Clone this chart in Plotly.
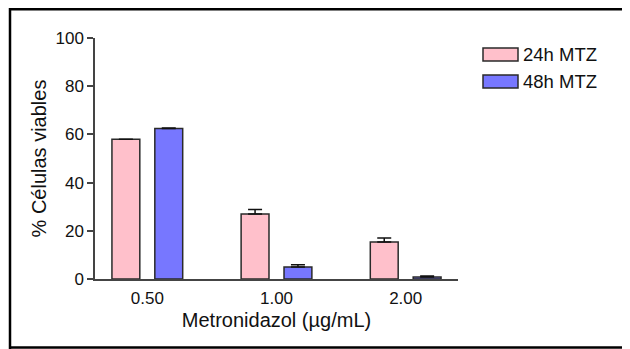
import plotly.graph_objects as go

categories = ["0.50", "1.00", "2.00"]
series_names = ["24h MTZ", "48h MTZ"]
values_24h = [58.0, 27.0, 15.4]
errors_24h = [0.0, 1.8, 1.6]
values_48h = [62.4, 5.0, 0.8]
errors_48h = [0.3, 0.9, 0.4]
y_ticks = [0, 20, 40, 60, 80, 100]

colors = ["#FFC0CB", "#7777FF"]
outline = "#2a2a2a"
FONT = "Arial, Liberation Sans, Helvetica, sans-serif"

# page body has an 8px margin; the figure is offset accordingly
OFF = 8
W, H = 630 - OFF, 349 - OFF
L, T = 95 - OFF, 38 - OFF
R = W - (458 - OFF)
B = H - (279 - OFF)
PW, PH = W - L - R, H - T - B

def px(x):
    return (x - OFF - L) / PW

def py(y):
    return (H - B - (y - OFF)) / PH

fig = go.Figure()
for name, vals, errs, col in zip(series_names, [values_24h, values_48h],
                                 [errors_24h, errors_48h], colors):
    fig.add_trace(go.Bar(
        x=categories, y=vals, name=name,
        marker=dict(color=col, line=dict(color=outline, width=1.5)),
        error_y=dict(type="data", array=errs, arrayminus=[0] * len(errs),
                     symmetric=False, color="#111", thickness=1.5, width=7),
        showlegend=False,
    ))

frame = dict(color="black", width=2.5)
shapes = [
    dict(type="line", xref="paper", yref="paper", x0=px(10), x1=px(640),
         y0=py(9.2), y1=py(9.2), line=frame),
    dict(type="line", xref="paper", yref="paper", x0=px(10), x1=px(10),
         y0=py(8), y1=py(349), line=frame),
    dict(type="line", xref="paper", yref="paper", x0=px(10), x1=px(640),
         y0=py(347.5), y1=py(347.5), line=frame),
]
annotations = []
legend_rows = [54.5, 81.5]
for name, col, yc in zip(series_names, colors, legend_rows):
    shapes.append(dict(type="rect", xref="paper", yref="paper",
                       x0=px(483), x1=px(518), y0=py(yc + 6.5), y1=py(yc - 6.5),
                       fillcolor=col, line=dict(color=outline, width=1.5)))
    annotations.append(dict(xref="paper", yref="paper", x=px(521), y=py(yc),
                            xanchor="left", yanchor="middle", showarrow=False,
                            text=name, font=dict(family=FONT, size=18.5, color="#111")))

fig.update_layout(
    width=W, height=H,
    margin=dict(l=L, r=R, t=T, b=B, pad=0),
    paper_bgcolor="white", plot_bgcolor="white",
    barmode="group", bargap=0.336, bargroupgap=0.35,
    font=dict(family=FONT, size=17, color="#111"),
    shapes=shapes, annotations=annotations,
    xaxis=dict(
        type="category", range=[-0.405, 2.405],
        showline=True, linecolor="#444", linewidth=1.5,
        ticks="outside", ticklen=3, tickcolor="rgba(0,0,0,0)",
        showgrid=False, zeroline=False,
        tickfont=dict(size=17),
        title=dict(text="Metronidazol (µg/mL)", font=dict(size=20), standoff=6),
    ),
    yaxis=dict(
        range=[0, 100], tickvals=y_ticks,
        showline=True, linecolor="#444", linewidth=1.5,
        ticks="outside", ticklen=6, tickwidth=1.5, tickcolor="#444",
        showgrid=False, zeroline=False,
        tickfont=dict(size=17),
        title=dict(text="% Células viables", font=dict(size=20), standoff=3),
    ),
)

fig.write_html("out.html")
